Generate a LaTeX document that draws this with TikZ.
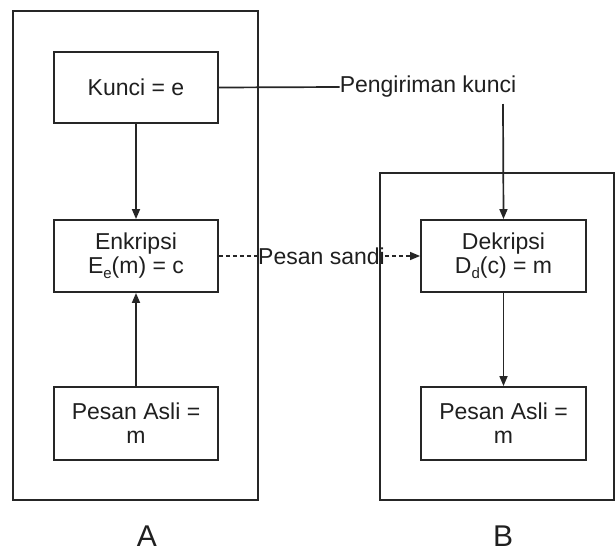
\documentclass[tikz,border=0pt]{standalone}
\usepackage{fontspec}
\setmainfont{Liberation Sans}
\usetikzlibrary{arrows.meta}
\newcommand{\lowsub}[1]{\raisebox{-5pt}{\fontsize{15}{15}\selectfont #1}}
\begin{document}
\begin{tikzpicture}[x=1pt,y=-1pt,
  every node/.style={font=\fontsize{23}{26}\selectfont, text=black!88},
  container/.style={draw=black!85, line width=2pt, inner sep=0pt},
  procbox/.style={draw=black!85, line width=1.9pt, minimum width=164pt, minimum height=72pt, align=center, inner sep=0pt},
  lbl/.style={inner sep=0pt},
  biglbl/.style={font=\fontsize{30}{32}\selectfont, inner sep=0pt},
  link/.style={line width=1.7pt, draw=black!85},
  arr/.style={line width=1.7pt, draw=black!85, -{Triangle[length=10pt,width=8pt]}},
  dlink/.style={line width=1.4pt, draw=black!85, dash pattern=on 4pt off 3pt},
  darr/.style={dlink, -{Triangle[length=10pt,width=8pt]}}
]
\useasboundingbox (0,0) rectangle (616,552);
% containers
\node[container, minimum width=245pt, minimum height=489pt] (boxA) at (135.5,255.5) {};
\node[container, minimum width=234pt, minimum height=327pt] (boxB) at (497,336.5) {};
% process boxes
\node[procbox, minimum height=71pt] (kunci) at (136,87.5) {Kunci = e};
\node[procbox] (enk) at (136,256) {Enkripsi\\[-2pt]E\lowsub{e}(m) = c};
\node[procbox, minimum height=73pt] (pasA) at (136,423.5) {Pesan Asli =\\[-2pt]m};
\node[procbox, minimum width=165pt] (dek) at (503.5,256) {Dekripsi\\[-2pt]D\lowsub{d}(c) = m};
\node[procbox, minimum width=165pt, minimum height=73pt] (pasB) at (503.5,423.5) {Pesan Asli =\\[-2pt]m};
% labels
\node[lbl] (pk) at (428,87) {Pengiriman kunci};
\node[lbl] (ps) at (321.5,256) {Pesan sandi};
\node[biglbl] (labA) at (147,536) {A};
\node[biglbl] (labB) at (503,536) {B};
\coordinate (pkdown) at (503,104);
% connectors
\draw[link] (kunci.east) -- (pk.west);
\draw[arr] (pkdown) -- (dek.north);
\draw[arr] (kunci.south) -- (enk.north);
\draw[arr] (pasA.north) -- (enk.south);
\draw[arr] (dek.south) -- (pasB.north);
\draw[dlink] (enk.east) -- (ps.west);
\draw[darr] (ps.east) -- (dek.west);
\end{tikzpicture}
\end{document}
